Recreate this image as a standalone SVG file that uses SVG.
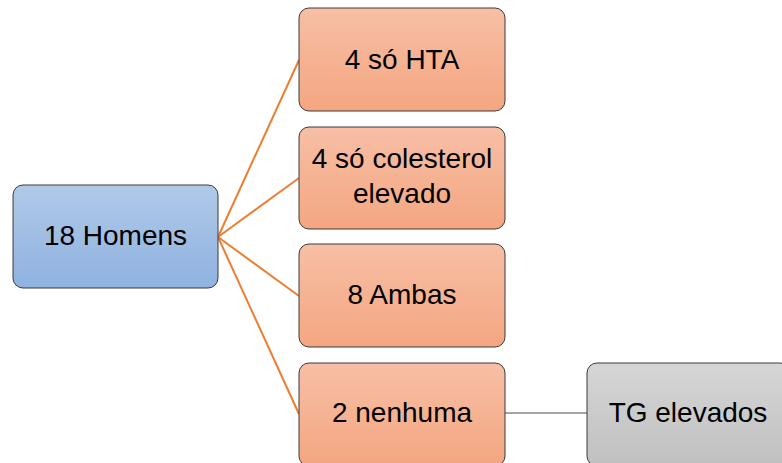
<svg xmlns="http://www.w3.org/2000/svg" width="782" height="463" viewBox="0 0 782 463">
<defs>
<linearGradient id="gBlue" x1="0" y1="0" x2="0" y2="1"><stop offset="0" stop-color="#b0c9e8"/><stop offset="1" stop-color="#8fb2e0"/></linearGradient>
<linearGradient id="gOrange" x1="0" y1="0" x2="0" y2="1"><stop offset="0" stop-color="#f7bfa6"/><stop offset="1" stop-color="#f4a680"/></linearGradient>
<linearGradient id="gGray" x1="0" y1="0" x2="0" y2="1"><stop offset="0" stop-color="#d6d6d6"/><stop offset="1" stop-color="#c0c0c0"/></linearGradient>
<style>
.box{stroke:#3a3a3a;stroke-width:1}
.t{font-family:"Liberation Sans",Arial,sans-serif;font-size:28px;fill:#000;text-anchor:middle}
.c{fill:none;stroke-width:2}
.o{stroke:#ed7d31}
.g{stroke:#a5a5a5}
</style>
</defs>
<g id="connectors">
<line class="c o" x1="218" y1="237" x2="299" y2="60"/>
<line class="c o" x1="218" y1="237" x2="299" y2="178"/>
<line class="c o" x1="218" y1="237" x2="299" y2="296"/>
<line class="c o" x1="218" y1="237" x2="299" y2="414"/>
<line class="c g" x1="505" y1="413" x2="587" y2="413"/>
</g>
<g id="n18homens"><rect class="box" x="13" y="185" width="205" height="103" rx="10" fill="url(#gBlue)"/><text class="t" x="115.5" y="245">18 Homens</text></g>
<g id="nHTA"><rect class="box" x="299" y="8" width="206" height="103" rx="10" fill="url(#gOrange)"/><text class="t" x="402" y="69">4 só HTA</text></g>
<g id="nCol"><rect class="box" x="299" y="127" width="206" height="102" rx="10" fill="url(#gOrange)"/><text class="t" x="402" y="168">4 só colesterol</text><text class="t" x="402" y="203">elevado</text></g>
<g id="nAmbas"><rect class="box" x="299" y="244" width="206" height="103" rx="10" fill="url(#gOrange)"/><text class="t" x="402" y="304">8 Ambas</text></g>
<g id="nNenhuma"><rect class="box" x="299" y="363" width="206" height="103" rx="10" fill="url(#gOrange)"/><text class="t" x="402" y="422">2 nenhuma</text></g>
<g id="nTG"><rect class="box" x="587" y="363" width="203" height="103" rx="10" fill="url(#gGray)"/><text class="t" x="688" y="422">TG elevados</text></g>
</svg>
